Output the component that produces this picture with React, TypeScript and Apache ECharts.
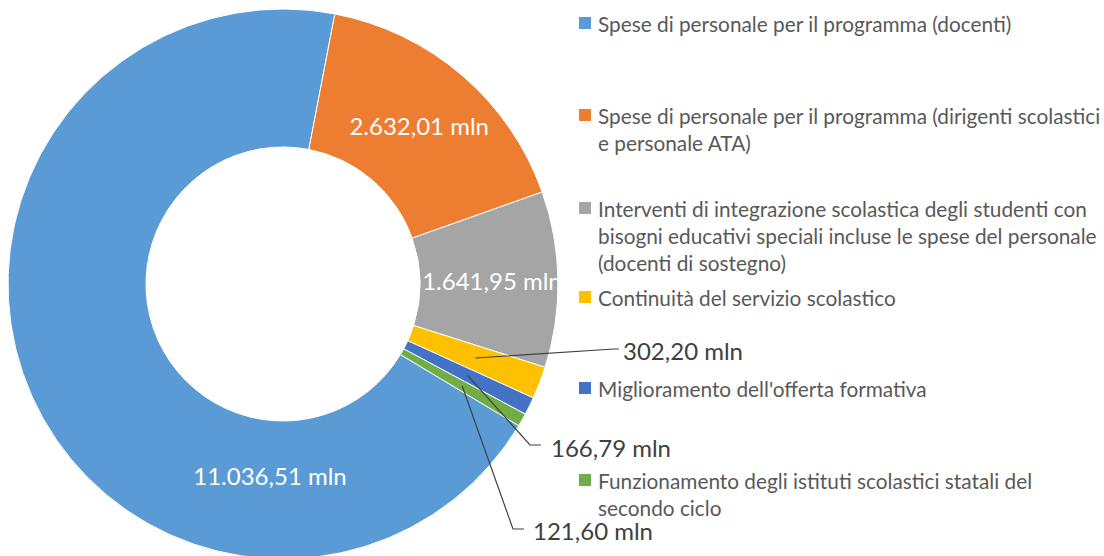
import React, { useEffect, useRef } from "react";
import * as echarts from "echarts";

// ---------- data ----------
const categories = [
  "Spese di personale per il programma (docenti)",
  "Spese di personale per il programma (dirigenti scolastici e personale ATA)",
  "Interventi di integrazione scolastica degli studenti con bisogni educativi speciali incluse le spese del personale (docenti di sostegno)",
  "Continuità del servizio scolastico",
  "Miglioramento dell'offerta formativa",
  "Funzionamento degli istituti scolastici statali del secondo ciclo",
];
const legendLines = [
  ["Spese di personale per il programma (docenti)"],
  ["Spese di personale per il programma (dirigenti scolastici", "e personale ATA)"],
  [
    "Interventi di integrazione scolastica degli studenti con",
    "bisogni educativi speciali incluse le spese del personale",
    "(docenti di sostegno)",
  ],
  ["Continuità del servizio scolastico"],
  ["Miglioramento dell'offerta formativa"],
  ["Funzionamento degli istituti scolastici statali del", "secondo ciclo"],
];
const values = [11036.51, 2632.01, 1641.95, 302.2, 166.79, 121.6];
const colors = ["#5B9BD5", "#ED7D31", "#A5A5A5", "#FFC000", "#4472C4", "#70AD47"];
const unit = "mln";
const outsideIdx = [3, 4, 5];

// ---------- layout ----------
const FONT = "Lato, 'Noto Sans', sans-serif";
const CX = 283;
const CY = 284;
const R0 = 137;
const R1 = 275;
const START_ANGLE = -31; // echarts degrees (counter-clockwise from 3 o'clock)
const LEGEND_X = 579;
const LEGEND_TEXT_X = 598;
const LEGEND_Y = [23, 115, 208, 297, 388, 480];
const LEGEND_LH = 27;
const LEGEND_FS = 20.8;
const LABEL_FS = 24;

// label placement for slices whose label sits outside / moved
const labelPlacement: Record<number, any> = {
  0: { x: 270, y: 475, align: "center" },
  3: { x: 623, y: 350, align: "left", line: [[614, 349], [619, 349]] },
  4: { x: 551, y: 447, align: "left", line: [[530, 445], [541, 445]] },
  5: { x: 533, y: 530, align: "left", line: [[513, 529], [524, 529]] },
};

function fmtIt(v: number): string {
  const [i, d] = v.toFixed(2).split(".");
  const grouped = i.replace(/\B(?=(\d{3})+(?!\d))/g, ".");
  return grouped + "," + d;
}

function sliceAnchor(idx: number): number[] {
  const total = values.reduce((a, b) => a + b, 0);
  let before = 0;
  for (let j = 0; j < idx; j++) before += values[j];
  const frac = (before + values[idx] / 2) / total;
  const a = ((90 - START_ANGLE) + frac * 360) * (Math.PI / 180);
  const rm = (R0 + R1) / 2;
  return [CX + rm * Math.sin(a), CY - rm * Math.cos(a)];
}

export default function App() {
  const ref = useRef<HTMLDivElement>(null);
  useEffect(() => {
    if (!ref.current) return;
    const chart = echarts.init(ref.current, undefined, { renderer: "svg" });

    const data = values.map((v, i) => {
      const outside = outsideIdx.indexOf(i) >= 0;
      return {
        name: categories[i],
        value: v,
        itemStyle: { color: colors[i] },
        label: {
          position: outside ? "outside" : "inside",
          color: outside ? "#404040" : "#ffffff",
        },
        labelLine: { show: false },
      };
    });

    const graphics: any[] = [];
    legendLines.forEach((lines, i) => {
      graphics.push({
        type: "rect",
        x: LEGEND_X,
        y: LEGEND_Y[i] - 6,
        shape: { x: 0, y: 0, width: 12, height: 12 },
        style: { fill: colors[i] },
        silent: true,
      });
      graphics.push({
        type: "text",
        x: LEGEND_TEXT_X,
        y: LEGEND_Y[i] - LEGEND_LH / 2,
        style: {
          text: lines.join("\n"),
          fill: "#595959",
          font: `${LEGEND_FS}px ${FONT}`,
          lineHeight: LEGEND_LH,
          verticalAlign: "top",
          align: "left",
        },
        silent: true,
      });
    });

    chart.setOption({
      animation: false,
      backgroundColor: "#ffffff",
      graphic: graphics,
      series: [
        {
          type: "pie",
          center: [CX, CY],
          radius: [R0, R1],
          startAngle: START_ANGLE,
          clockwise: true,
          avoidLabelOverlap: false,
          silent: true,
          itemStyle: { borderColor: "#ffffff", borderWidth: 1 },
          label: {
            show: true,
            fontFamily: FONT,
            fontSize: LABEL_FS,
            formatter: (p: any) => `${fmtIt(p.value)} ${unit}`,
          },
          labelLine: { show: false },
          labelLayout: (p: any) => {
            const pl = labelPlacement[p.dataIndex];
            if (!pl) return {};
            return { x: pl.x, y: pl.y, align: pl.align, verticalAlign: "middle" };
          },
          data,
        },
        {
          // leader lines from the middle of each small slice to its label
          type: "custom",
          coordinateSystem: "none",
          silent: true,
          z: 5,
          data: outsideIdx.map((i) => [i]),
          renderItem: (_params: any, api: any) => {
            const idx = api.value(0);
            const pl = labelPlacement[idx];
            const pts = [sliceAnchor(idx), pl.line[0], pl.line[1]];
            return {
              type: "polyline",
              shape: { points: pts },
              style: { stroke: "#404040", lineWidth: 1.2, fill: "none" },
            };
          },
        },
      ],
    });
    return () => chart.dispose();
  }, []);
  return (
    <div
      ref={ref}
      style={{ position: "absolute", left: 0, top: 0, width: 1104, height: 556 }}
    />
  );
}
